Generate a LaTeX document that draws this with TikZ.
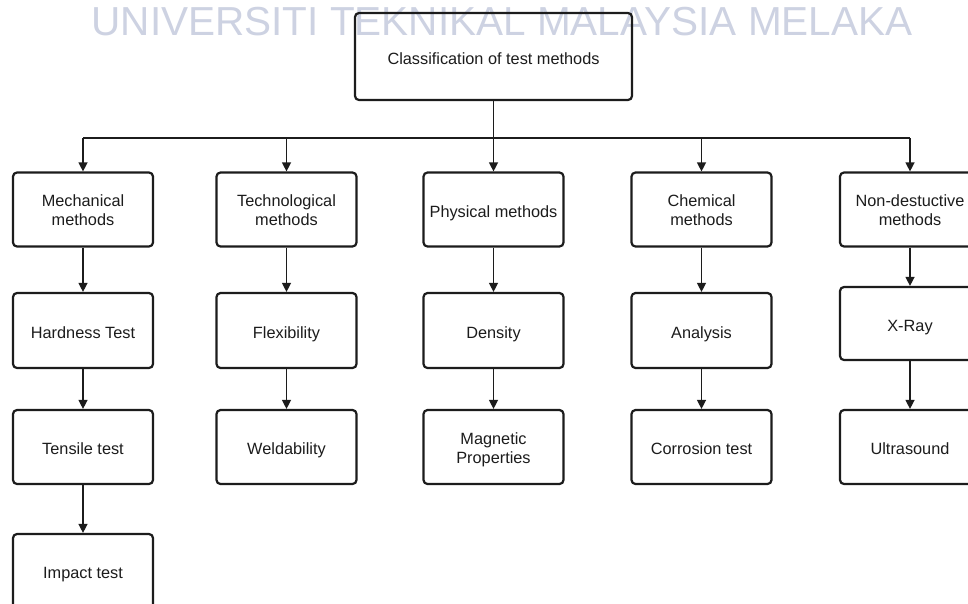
\documentclass[tikz,border=0pt]{standalone}
\usepackage{fontspec}
\setmainfont{Liberation Sans}
\usetikzlibrary{arrows.meta}
\definecolor{wm}{RGB}{205,210,226}
\definecolor{ink}{RGB}{28,28,28}
\newcommand{\mystrut}{\rule[-4pt]{0pt}{23pt}}
\newcommand{\mydepth}{\rule[-4pt]{0pt}{4pt}}
\newcommand{\twol}[2]{\begin{tabular}{@{}c@{}}\rule[-4pt]{0pt}{23pt}#1\\#2\rule[-4pt]{0pt}{4pt}\end{tabular}}
\tikzset{
  box/.style={draw=ink, line width=2.2pt, rounded corners=4pt, minimum width=140pt, minimum height=74pt, align=center, inner sep=0pt, text=ink, font=\fontsize{16.3}{19}\selectfont, execute at begin node=\mystrut, execute at end node=\mydepth},
  conn/.style={draw=ink, line width=1.3pt, -{Triangle[length=9pt,width=9pt]}},
  plain/.style={draw=ink, line width=1.3pt}
}
\begin{document}
\begin{tikzpicture}[x=1pt,y=-1pt]
\useasboundingbox (0,0) rectangle (968,603);
\fill[white] (0,0) rectangle (968,603);
\node[anchor=base, text=wm, font=\fontsize{40.5}{44}\selectfont, inner sep=0pt] (wmk) at (502,35) {UNIVERSITI TEKNIKAL MALAYSIA MELAKA};

\node[box, minimum width=277pt, minimum height=87pt] (top) at (493.5,56.5) {Classification of test methods};

\node[box] (m1) at (83,209.5) {\twol{Mechanical}{methods}};
\node[box] (t1) at (286.5,209.5) {\twol{Technological}{methods}};
\node[box] (p1) at (493.5,209.5) {Physical methods};
\node[box] (c1) at (701.5,209.5) {\twol{Chemical}{methods}};
\node[box] (n1) at (910,209.5) {\twol{Non-destuctive}{methods}};

\node[box, minimum height=75pt] (m2) at (83,330.5) {Hardness Test};
\node[box, minimum height=75pt] (t2) at (286.5,330.5) {Flexibility};
\node[box, minimum height=75pt] (p2) at (493.5,330.5) {Density};
\node[box, minimum height=75pt] (c2) at (701.5,330.5) {Analysis};
\node[box, minimum height=73pt] (n2) at (910,323.5) {X-Ray};

\node[box] (m3) at (83,447) {Tensile test};
\node[box] (t3) at (286.5,447) {Weldability};
\node[box] (p3) at (493.5,447) {\twol{Magnetic}{Properties}};
\node[box] (c3) at (701.5,447) {Corrosion test};
\node[box] (n3) at (910,447) {Ultrasound};

\node[box] (m4) at (83,571) {Impact test};

\coordinate (bus) at (493.5,138);
\draw[plain] (top.south) -- (bus);
\draw[plain] (m1.north |- bus) -- (n1.north |- bus);
\foreach \n in {m1,t1,p1,c1,n1} \draw[conn] (\n.north |- bus) -- (\n.north);

\draw[conn] (m1) -- (m2);
\draw[conn] (m2) -- (m3);
\draw[conn] (m3) -- (m4);
\draw[conn] (t1) -- (t2);
\draw[conn] (t2) -- (t3);
\draw[conn] (p1) -- (p2);
\draw[conn] (p2) -- (p3);
\draw[conn] (c1) -- (c2);
\draw[conn] (c2) -- (c3);
\draw[conn] (n1) -- (n2);
\draw[conn] (n2) -- (n3);
\end{tikzpicture}
\end{document}
